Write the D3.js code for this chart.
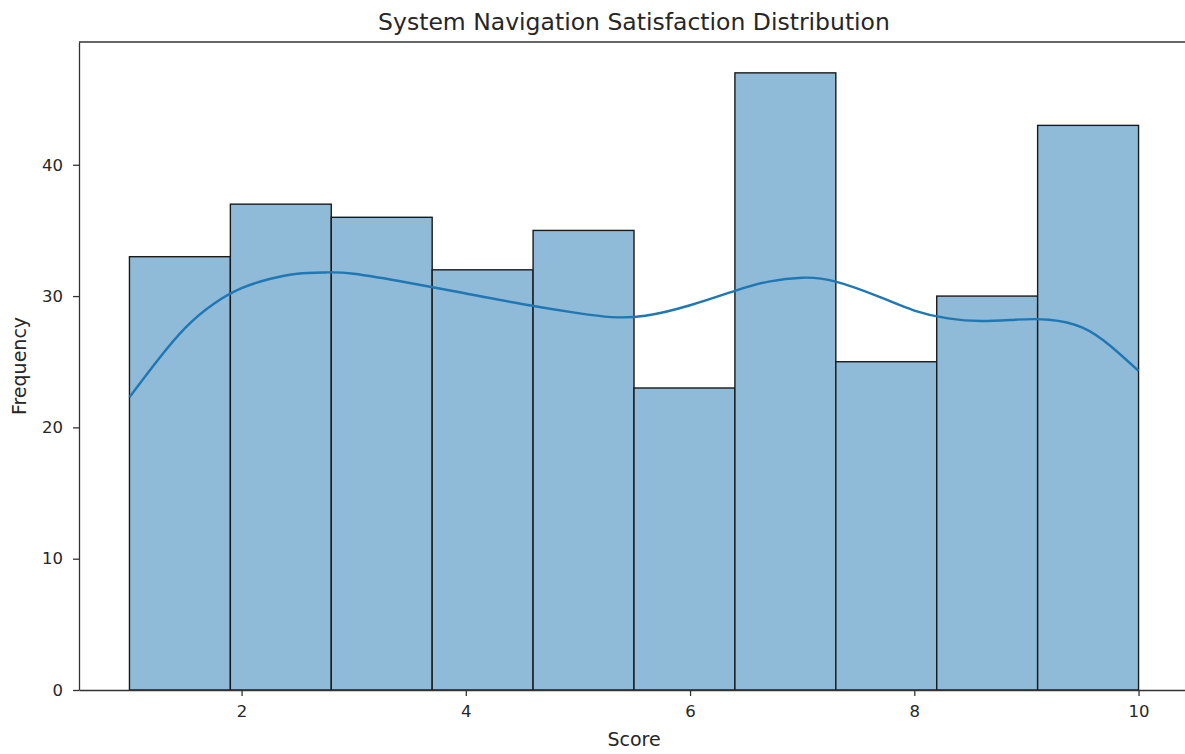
<!DOCTYPE html>
<html>
<head>
<meta charset="utf-8">
<script src="https://cdn.jsdelivr.net/npm/d3@7"></script>
<style>
  body { margin: 0; background: #fff; }
  svg { font-family: "DejaVu Sans", sans-serif; }
</style>
</head>
<body>
<div id="container"></div>
<script>
/**
 * CONSTANTS AND GLOBALS
 * */
const width = 1185,
  height = 754,
  margin = {top: 42, bottom: 64, left: 79, right: -4};

// histogram bins (score 1..10, 10 bins)
const binEdges = [1, 1.9, 2.8, 3.7, 4.6, 5.5, 6.4, 7.3, 8.2, 9.1, 10];
const counts = [33, 37, 36, 32, 35, 23, 47, 25, 30, 43];

// kde curve (score, frequency)
const kdeX = [1.0, 1.25, 1.5, 1.75, 2.0, 2.25, 2.5, 2.75, 3.0, 3.5, 4.0, 4.5, 5.0, 5.3, 5.6,
  6.0, 6.4, 6.7, 7.0, 7.3, 7.7, 8.0, 8.3, 8.6, 8.9, 9.2, 9.5, 9.75, 10.0];
const kdeY = [22.3, 25.1, 27.6, 29.4, 30.6, 31.3, 31.7, 31.8, 31.7, 31.0, 30.2, 29.4, 28.7, 28.4, 28.5,
  29.3, 30.4, 31.1, 31.4, 31.1, 29.9, 28.9, 28.3, 28.1, 28.2, 28.2, 27.6, 26.2, 24.3];

const xTicks = [2, 4, 6, 8, 10];
const yTicks = [0, 10, 20, 30, 40];

/**
 * DRAW
 * */
const svg = d3.select("#container")
  .append("svg")
  .attr("width", width)
  .attr("height", height);

const xScale = d3.scaleLinear()
  .domain([0.55, 10.45])
  .range([margin.left, width - margin.right]);

const yScale = d3.scaleLinear()
  .domain([0, 49.35])
  .range([height - margin.bottom, margin.top]);

const bars = counts.map((c, i) => ({x0: binEdges[i], x1: binEdges[i + 1], count: c}));

svg.selectAll("rect.bar")
  .data(bars)
  .join("rect")
  .attr("class", "bar")
  .attr("x", d => xScale(d.x0))
  .attr("y", d => yScale(d.count))
  .attr("width", d => xScale(d.x1) - xScale(d.x0))
  .attr("height", d => yScale(0) - yScale(d.count))
  .attr("fill", "#8fbbd9")
  .attr("stroke", "#1a1a1a")
  .attr("stroke-width", 1.4);

const kde = kdeX.map((x, i) => [x, kdeY[i]]);
const line = d3.line()
  .x(d => xScale(d[0]))
  .y(d => yScale(d[1]))
  .curve(d3.curveNatural);

svg.append("path")
  .datum(kde)
  .attr("d", line)
  .attr("fill", "none")
  .attr("stroke", "#1f77b4")
  .attr("stroke-width", 2.4);

// axes
const xAxis = svg.append("g")
  .attr("transform", `translate(0,${yScale(0)})`)
  .call(d3.axisBottom(xScale).tickValues(xTicks).tickSizeInner(6).tickSizeOuter(0).tickPadding(9));

const yAxis = svg.append("g")
  .attr("transform", `translate(${margin.left},0)`)
  .call(d3.axisLeft(yScale).tickValues(yTicks).tickSizeInner(6).tickSizeOuter(0).tickPadding(10));

[xAxis, yAxis].forEach(g => {
  g.select(".domain").attr("stroke", "#333").attr("stroke-width", 1.3);
  g.selectAll(".tick line").attr("stroke", "#333").attr("stroke-width", 1.3);
  g.selectAll(".tick text")
    .attr("fill", "#262626")
    .style("font-family", "'DejaVu Sans', sans-serif")
    .style("font-size", "16.5px");
});

// top spine
svg.append("line")
  .attr("x1", margin.left).attr("x2", width)
  .attr("y1", margin.top).attr("y2", margin.top)
  .attr("stroke", "#333").attr("stroke-width", 1.3);

// labels
svg.append("text")
  .attr("x", xScale(5.5))
  .attr("y", 30)
  .attr("text-anchor", "middle")
  .attr("fill", "#262626")
  .style("font-size", "23.5px")
  .text("System Navigation Satisfaction Distribution");

svg.append("text")
  .attr("x", xScale(5.5))
  .attr("y", 746)
  .attr("text-anchor", "middle")
  .attr("fill", "#262626")
  .style("font-size", "19px")
  .text("Score");

svg.append("text")
  .attr("transform", `translate(26,${(margin.top + height - margin.bottom) / 2}) rotate(-90)`)
  .attr("text-anchor", "middle")
  .attr("fill", "#262626")
  .style("font-size", "19px")
  .text("Frequency");
</script>
</body>
</html>
